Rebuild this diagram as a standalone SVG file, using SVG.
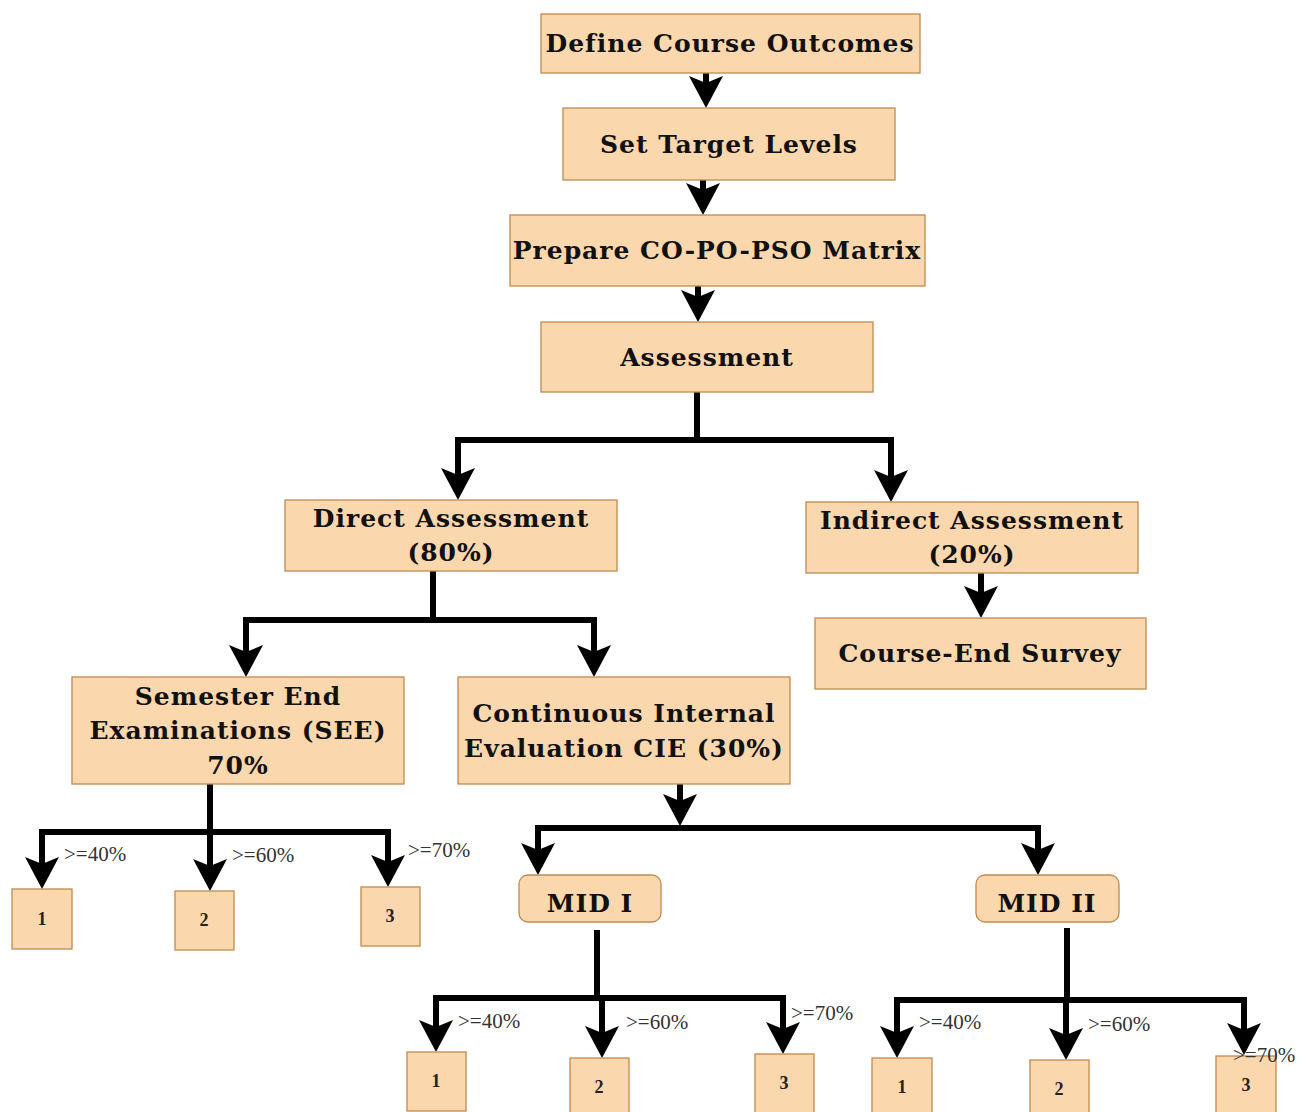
<svg xmlns="http://www.w3.org/2000/svg" width="1299" height="1112" viewBox="0 0 1299 1112">
<defs>
<marker id="ah" viewBox="0 0 34 34" markerUnits="userSpaceOnUse" markerWidth="34" markerHeight="34" refX="22" refY="17" orient="auto">
<path d="M0,0 L32,17 L0,34 L7,17 z" fill="#000"/>
</marker>
<style>
.box{fill:#fad7ac;stroke:#c08a4e;stroke-width:1.3}
.t{font-family:"DejaVu Serif","Liberation Serif",serif;font-weight:bold;font-size:25px;letter-spacing:1px;fill:#111;text-anchor:middle}
.n{font-family:"Liberation Serif",serif;font-weight:bold;font-size:18px;fill:#222;text-anchor:middle}
.p{font-family:"Liberation Serif",serif;font-size:21px;fill:#333}
.c{fill:none;stroke:#000;stroke-width:6;marker-end:url(#ah)}
</style>
</defs>
<rect width="1299" height="1112" fill="#fff"/>

<g id="connectors">
<path class="c" d="M706,73 V98"/>
<path class="c" d="M703,180 V205"/>
<path class="c" d="M698,286 V312"/>
<path class="c" d="M697,392 V440 H458 V490"/>
<path class="c" d="M697,440 H891 V492"/>
<path class="c" d="M433,571 V620 H246 V667"/>
<path class="c" d="M433,620 H594 V667"/>
<path class="c" d="M981,573 V608"/>
<path class="c" d="M210,784 V832 H42 V879"/>
<path class="c" d="M210,832 V881"/>
<path class="c" d="M210,832 H388 V877"/>
<path class="c" d="M680,784 V816"/>
<path class="c" d="M680,828 H538 V865"/>
<path class="c" d="M680,828 H1038 V865"/>
<path class="c" d="M597,930 V998 H436 V1042"/>
<path class="c" d="M597,998 H602 V1048"/>
<path class="c" d="M597,998 H783 V1044"/>
<path class="c" d="M1067,928 V1000 H897 V1048"/>
<path class="c" d="M1067,1000 H1066 V1050"/>
<path class="c" d="M1067,1000 H1244 V1045"/>
</g>

<g id="define"><rect class="box" x="541" y="14" width="379" height="59"/><text class="t" x="730" y="52">Define Course Outcomes</text></g>
<g id="target"><rect class="box" x="563" y="108" width="332" height="72"/><text class="t" x="729" y="153">Set Target Levels</text></g>
<g id="matrix"><rect class="box" x="510" y="215" width="415" height="71"/><text class="t" x="717" y="259">Prepare CO-PO-PSO Matrix</text></g>
<g id="assessment"><rect class="box" x="541" y="322" width="332" height="70"/><text class="t" x="707" y="366">Assessment</text></g>
<g id="direct"><rect class="box" x="285" y="500" width="332" height="71"/><text class="t" x="451" y="527">Direct Assessment</text><text class="t" x="451" y="561">(80%)</text></g>
<g id="indirect"><rect class="box" x="806" y="502" width="332" height="71"/><text class="t" x="972" y="529">Indirect Assessment</text><text class="t" x="972" y="563">(20%)</text></g>
<g id="survey"><rect class="box" x="815" y="618" width="331" height="71"/><text class="t" x="980" y="662">Course-End Survey</text></g>
<g id="see"><rect class="box" x="72" y="677" width="332" height="107"/><text class="t" x="238" y="705">Semester End</text><text class="t" x="238" y="739">Examinations (SEE)</text><text class="t" x="238" y="774">70%</text></g>
<g id="cie"><rect class="box" x="458" y="677" width="332" height="107"/><text class="t" x="624" y="722">Continuous Internal</text><text class="t" x="624" y="757">Evaluation CIE (30%)</text></g>
<g id="mid1"><rect class="box" x="519" y="875" width="142" height="47" rx="9"/><text class="t" x="590" y="912">MID I</text></g>
<g id="mid2"><rect class="box" x="976" y="875" width="143" height="47" rx="9"/><text class="t" x="1047" y="912">MID II</text></g>

<g id="see1"><rect class="box" x="12" y="889" width="60" height="60"/><text class="n" x="42" y="925">1</text></g>
<g id="see2"><rect class="box" x="175" y="891" width="59" height="59"/><text class="n" x="204" y="926">2</text></g>
<g id="see3"><rect class="box" x="361" y="887" width="59" height="59"/><text class="n" x="390" y="922">3</text></g>
<g id="m1a"><rect class="box" x="407" y="1052" width="59" height="59"/><text class="n" x="436" y="1087">1</text></g>
<g id="m1b"><rect class="box" x="570" y="1058" width="59" height="59"/><text class="n" x="599" y="1093">2</text></g>
<g id="m1c"><rect class="box" x="755" y="1054" width="59" height="59"/><text class="n" x="784" y="1089">3</text></g>
<g id="m2a"><rect class="box" x="872" y="1058" width="60" height="59"/><text class="n" x="902" y="1093">1</text></g>
<g id="m2b"><rect class="box" x="1030" y="1060" width="59" height="59"/><text class="n" x="1059" y="1095">2</text></g>
<g id="m2c"><rect class="box" x="1216" y="1056" width="60" height="59"/><text class="n" x="1246" y="1091">3</text></g>

<g id="labels">
<text class="p" x="64" y="861">&gt;=40%</text>
<text class="p" x="232" y="862">&gt;=60%</text>
<text class="p" x="408" y="857">&gt;=70%</text>
<text class="p" x="458" y="1028">&gt;=40%</text>
<text class="p" x="626" y="1029">&gt;=60%</text>
<text class="p" x="791" y="1020">&gt;=70%</text>
<text class="p" x="919" y="1029">&gt;=40%</text>
<text class="p" x="1088" y="1031">&gt;=60%</text>
<text class="p" x="1233" y="1062">&gt;=70%</text>
</g>
</svg>
